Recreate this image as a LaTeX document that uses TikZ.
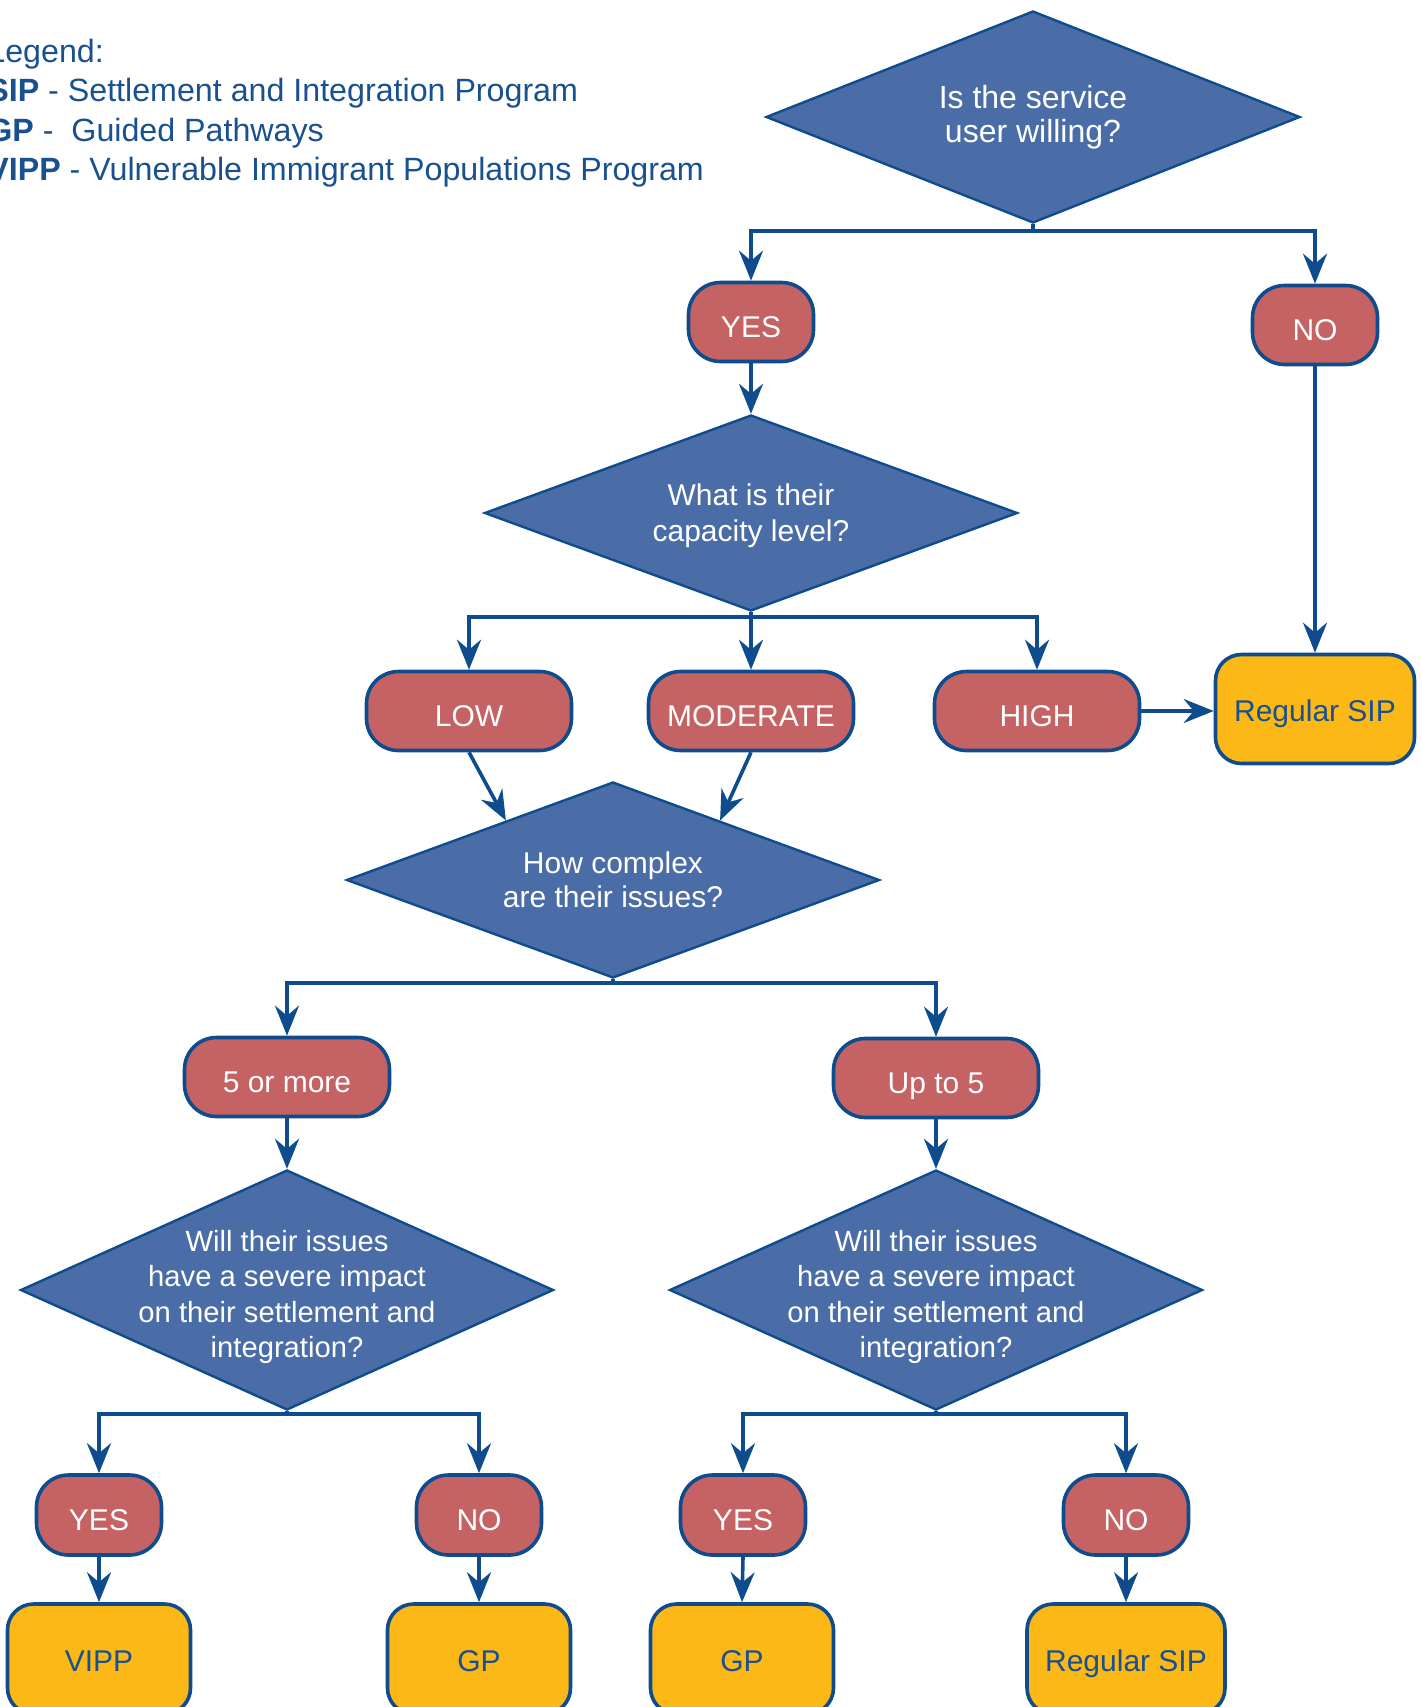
\documentclass[tikz,border=0pt]{standalone}
\usepackage{fontspec}
\setmainfont{Liberation Sans}
\usetikzlibrary{arrows.meta, positioning, shapes.geometric, calc}
\definecolor{flowblue}{RGB}{14,76,141}
\definecolor{diamondblue}{RGB}{74,109,167}
\definecolor{answerred}{RGB}{197,98,99}
\definecolor{resultyellow}{RGB}{251,184,22}
\definecolor{textblue}{RGB}{24,80,144}

\begin{document}
\begin{tikzpicture}[
	  x=0.5pt, y=-0.5pt,
	  decision_style/.style={
	  	diamond,
	  	draw=flowblue,
	  	line width=1.2pt,
	  	fill=diamondblue,
	  	inner sep=0pt,
	  	minimum width=266.5pt,
	  	minimum height=98pt
	  },
	  question_style/.style={
	  	text=white,
	  	align=center,
	  	font=\fontsize{15}{18}\selectfont
	  },
	  answer_style/.style={
	  	rectangle,
	  	rounded corners=16pt,
	  	draw=flowblue,
	  	line width=1.8pt,
	  	fill=answerred,
	  	text=white,
	  	text height=15pt,
	  	text depth=0pt,
	  	minimum width=62.5pt,
	  	minimum height=39.5pt,
	  	font=\fontsize{15}{17}\selectfont
	  },
	  wide_answer/.style={minimum width=102.5pt},
	  result_style/.style={
	  	rectangle,
	  	rounded corners=13pt,
	  	draw=flowblue,
	  	line width=1.8pt,
	  	fill=resultyellow,
	  	text=textblue,
	  	text height=12.5pt,
	  	text depth=0pt,
	  	minimum width=91.5pt,
	  	minimum height=55pt,
	  	font=\fontsize{15}{17}\selectfont
	  },
	  flow/.style={
	  	draw=flowblue,
	  	line width=1.8pt,
	  	-{Stealth[length=15pt,width=12pt,inset=5pt]}
	  }]
	\useasboundingbox (0,0) rectangle (1422,1707);

	% Legend
	\node[anchor=west, inner sep=0pt, align=left, text=textblue,
	      font=\fontsize{16.1}{19.7}\selectfont] (legend) at (-13,113)
	      {Legend:\\
	       \textbf{SIP} - Settlement and Integration Program\\
	       \textbf{GP} -\ \ Guided Pathways\\
	       \textbf{VIPP} - Vulnerable Immigrant Populations Program};

	% Questions
	\node[decision_style, minimum width=267pt, minimum height=106pt,
	      label={[question_style, font=\fontsize{16}{17}\selectfont]center:Is the service\\user willing?}] (willing) at (1033,117) {};
	\node[decision_style, label={[question_style, yshift=-1.5pt]center:What is their\\capacity level?}] (capacity) at (751,513) {};
	\node[decision_style, label={[question_style, font=\fontsize{15}{17}\selectfont]center:How complex\\are their issues?}] (complex) at (613,880) {};
	\node[decision_style, minimum height=120pt,
	      label={[question_style, font=\fontsize{14.6}{17.75}\selectfont, yshift=-3.5pt]center:Will their issues\\have a severe impact\\on their settlement and\\integration?}] (impact_more) at (287,1290) {};
	\node[decision_style, minimum height=120pt,
	      label={[question_style, font=\fontsize{14.6}{17.75}\selectfont, yshift=-3.5pt]center:Will their issues\\have a severe impact\\on their settlement and\\integration?}] (impact_upto) at (936,1290) {};

	% Answers
	\node[answer_style] (willing_yes) at (751,322) {YES};
	\node[answer_style] (willing_no) at (1315,325) {NO};
	\node[answer_style, wide_answer] (low) at (469,711) {LOW};
	\node[answer_style, wide_answer] (moderate) at (751,711) {MODERATE};
	\node[answer_style, wide_answer] (high) at (1037,711) {HIGH};
	\node[answer_style, wide_answer] (more_five) at (287,1077) {5 or more};
	\node[answer_style, wide_answer] (upto_five) at (936,1078) {Up to 5};
	\node[answer_style, minimum height=40pt] (more_yes) at (99,1515) {YES};
	\node[answer_style, minimum height=40pt] (more_no) at (479,1515) {NO};
	\node[answer_style, minimum height=40pt] (upto_yes) at (743,1515) {YES};
	\node[answer_style, minimum height=40pt] (upto_no) at (1126,1515) {NO};

	% Programs
	\node[result_style, minimum width=99.5pt, minimum height=54.5pt] (sip_high) at (1315,709) {Regular SIP};
	\node[result_style] (vipp) at (99,1659) {VIPP};
	\node[result_style] (gp_more) at (479,1659) {GP};
	\node[result_style] (gp_upto) at (742,1659) {GP};
	\node[result_style, minimum width=99pt] (sip_upto) at (1126,1659) {Regular SIP};

	% Connectors
	\draw[flow] (willing.south) -- ++(0,7) -| (willing_yes.north);
	\draw[flow] (willing.south) -- ++(0,7) -| (willing_no.north);
	\draw[flow] (willing_yes.south) -- (capacity.north);
	\draw[flow] (willing_no.south) -- (sip_high.north);
	\draw[flow] (capacity.south) -- ++(0,5) -| (low.north);
	\draw[flow] (capacity.south) -- ++(0,5) -| (moderate.north);
	\draw[flow] (capacity.south) -- ++(0,5) -| (high.north);
	\draw[flow] (high.east) -- (high.east -| sip_high.west);
	\draw[flow] (low.south) -- ($(complex.north)!0.4!(complex.west)$);
	\draw[flow] (moderate.south) -- ($(complex.north)!0.4!(complex.east)$);
	\draw[flow] (complex.south) -- ++(0,4) -| (more_five.north);
	\draw[flow] (complex.south) -- ++(0,4) -| (upto_five.north);
	\draw[flow] (more_five.south) -- (impact_more.north);
	\draw[flow] (upto_five.south) -- (impact_upto.north);
	\draw[flow] (impact_more.south) -- ++(0,3) -| (more_yes.north);
	\draw[flow] (impact_more.south) -- ++(0,3) -| (more_no.north);
	\draw[flow] (impact_upto.south) -- ++(0,3) -| (upto_yes.north);
	\draw[flow] (impact_upto.south) -- ++(0,3) -| (upto_no.north);
	\draw[flow] (more_yes.south) -- (vipp.north);
	\draw[flow] (more_no.south) -- (gp_more.north);
	\draw[flow] (upto_yes.south) -- (gp_upto.north);
	\draw[flow] (upto_no.south) -- (sip_upto.north);
\end{tikzpicture}
\end{document}
